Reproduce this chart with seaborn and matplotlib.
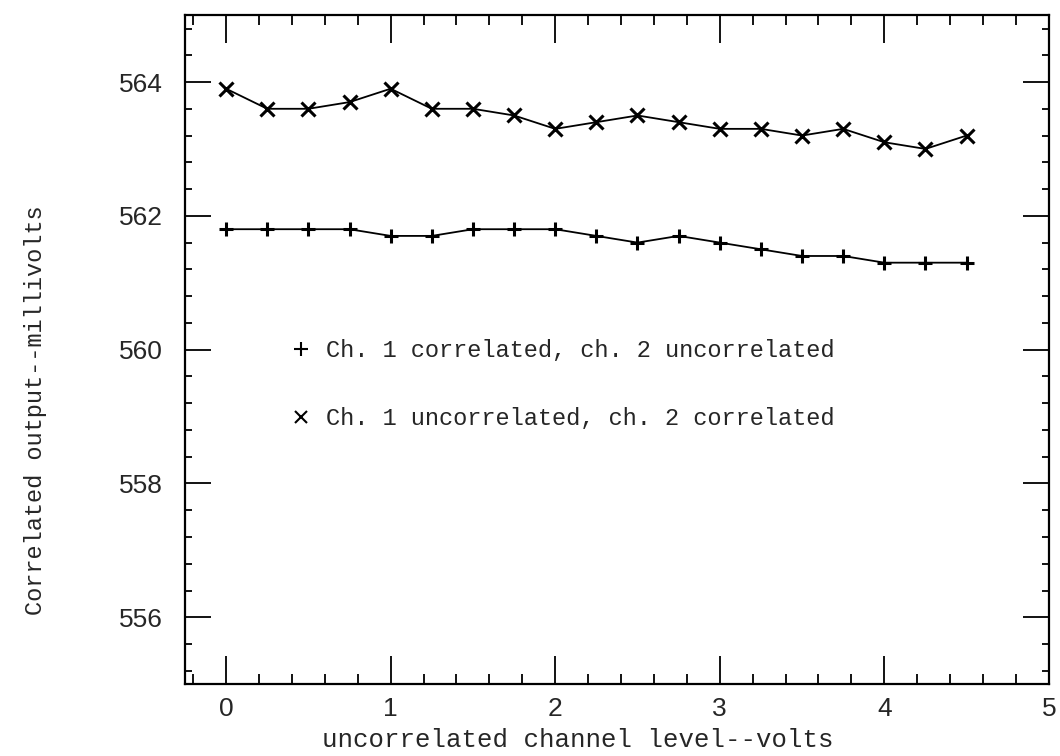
import matplotlib
matplotlib.use("Agg")
import matplotlib.pyplot as plt
import seaborn as sns
import pandas as pd
from matplotlib.lines import Line2D
from matplotlib.ticker import MultipleLocator

# uncorrelated channel level, volts
level = [0.0, 0.25, 0.5, 0.75, 1.0, 1.25, 1.5, 1.75, 2.0, 2.25,
         2.5, 2.75, 3.0, 3.25, 3.5, 3.75, 4.0, 4.25, 4.5]

# ch. 1 correlated, ch. 2 uncorrelated (+)
out_plus = [561.8, 561.8, 561.8, 561.8, 561.7, 561.7, 561.8, 561.8, 561.8, 561.7,
            561.6, 561.7, 561.6, 561.5, 561.4, 561.4, 561.3, 561.3, 561.3]

# ch. 1 uncorrelated, ch. 2 correlated (x)
out_cross = [563.9, 563.6, 563.6, 563.7, 563.9, 563.6, 563.6, 563.5, 563.3, 563.4,
             563.5, 563.4, 563.3, 563.3, 563.2, 563.3, 563.1, 563.0, 563.2]

label_plus = "Ch. 1 correlated, ch. 2 uncorrelated"
label_cross = "Ch. 1 uncorrelated, ch. 2 correlated"

df = pd.DataFrame({
    "level": level + level,
    "mv": out_plus + out_cross,
    "serie": [label_plus] * len(level) + [label_cross] * len(level),
})

sns.set_theme(style="ticks")
plt.rcParams["font.family"] = ["Liberation Sans", "DejaVu Sans"]

fig = plt.figure(figsize=(10.6, 7.56), dpi=100)
ax = fig.add_axes([0.1745, 0.095, 0.815, 0.885])

sns.lineplot(data=df, x="level", y="mv", hue="serie", style="serie",
             markers={label_plus: "+", label_cross: "x"}, dashes=False,
             palette={label_plus: "black", label_cross: "black"},
             linewidth=1.3, markersize=10, markeredgewidth=2.2,
             markeredgecolor="black", legend=False, ax=ax)

ax.set_xlim(-0.25, 5.0)
ax.set_ylim(555, 565)
ax.xaxis.set_major_locator(MultipleLocator(1))
ax.xaxis.set_minor_locator(MultipleLocator(0.2))
ax.yaxis.set_major_locator(MultipleLocator(2))
ax.yaxis.set_minor_locator(MultipleLocator(0.4))

ax.tick_params(axis="both", which="both", direction="in", top=True, right=True,
               color="black", width=1.3)
ax.tick_params(axis="x", which="major", length=20, pad=9, labelsize=19)
ax.tick_params(axis="x", which="minor", length=7)
ax.tick_params(axis="y", which="major", length=19, pad=16, labelsize=19)
ax.tick_params(axis="y", which="minor", length=5)

for s in ax.spines.values():
    s.set_linewidth(1.6)
    s.set_color("black")

mono = ["Liberation Mono", "DejaVu Sans Mono"]
ax.set_xlabel("uncorrelated channel level--volts", fontsize=18.5, family=mono)
ax.xaxis.set_label_coords(0.455, -0.066)
ax.set_ylabel("Correlated output--millivolts", fontsize=17, family=mono)
ax.yaxis.set_label_coords(-0.16, 0.41)

handles = [
    Line2D([], [], color="black", linestyle="none", marker="+",
           markersize=10, markeredgewidth=1.5),
    Line2D([], [], color="black", linestyle="none", marker="x",
           markersize=8, markeredgewidth=1.5),
]
ax.legend(handles, [label_plus, label_cross], loc="center left",
          bbox_to_anchor=(0.096, 0.448), frameon=False, handlelength=1.0,
          handletextpad=0.55, labelspacing=1.9,
          prop={"family": mono, "size": 17})

fig.savefig("out.png", dpi=100)
